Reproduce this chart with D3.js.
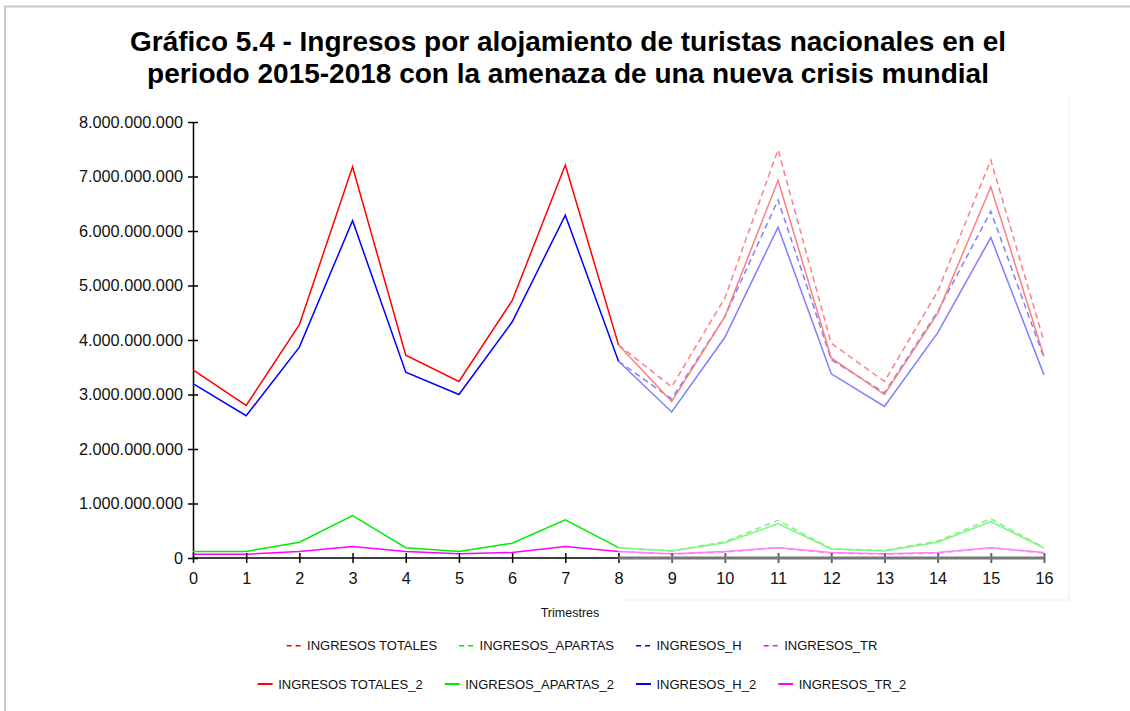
<!DOCTYPE html>
<html>
<head>
<meta charset="utf-8">
<script src="https://cdn.jsdelivr.net/npm/d3@7"></script>
<style>
  body { margin: 0; background: #fff; }
  text { font-family: "Liberation Sans", Arial, sans-serif; }
</style>
</head>
<body>
<svg width="1130" height="711"></svg>
<script>

// Data (valores en euros)
var periods = [0, 1, 2, 3, 4, 5, 6, 7, 8, 9, 10, 11, 12, 13, 14, 15, 16];
var forecastPeriods = [8, 9, 10, 11, 12, 13, 14, 15, 16];

var totales2 = [3450000000, 2800000000, 4280000000, 7180000000, 3720000000, 3240000000, 4720000000, 7210000000, 3910000000,
                2870000000, 4430000000, 6930000000, 3670000000, 3000000000, 4490000000, 6810000000, 3700000000];
var apartas2 = [120000000, 120000000, 290000000, 780000000, 190000000, 120000000, 270000000, 700000000, 190000000,
                130000000, 280000000, 630000000, 165000000, 130000000, 290000000, 670000000, 180000000];
var h2 = [3200000000, 2610000000, 3870000000, 6190000000, 3410000000, 3000000000, 4330000000, 6290000000, 3610000000,
          2680000000, 4050000000, 6070000000, 3380000000, 2780000000, 4130000000, 5880000000, 3360000000];
var tr2 = [70000000, 70000000, 120000000, 210000000, 120000000, 80000000, 100000000, 210000000, 120000000,
           80000000, 120000000, 190000000, 100000000, 80000000, 100000000, 190000000, 100000000];

// escenario con nueva crisis (desde el trimestre 8)
var totales = [3910000000, 3140000000, 4770000000, 7490000000, 3940000000, 3240000000, 4890000000, 7300000000, 3970000000];
var apartas = [190000000, 130000000, 300000000, 690000000, 170000000, 140000000, 310000000, 720000000, 190000000];
var hh = [3610000000, 2920000000, 4430000000, 6570000000, 3640000000, 3030000000, 4520000000, 6360000000, 3670000000];
var tr = [120000000, 70000000, 110000000, 190000000, 90000000, 70000000, 90000000, 190000000, 90000000];

var yTicks = [0, 1000000000, 2000000000, 3000000000, 4000000000, 5000000000, 6000000000, 7000000000, 8000000000];

var legendRow1 = ["INGRESOS TOTALES", "INGRESOS_APARTAS", "INGRESOS_H", "INGRESOS_TR"];
var legendRow2 = ["INGRESOS TOTALES_2", "INGRESOS_APARTAS_2", "INGRESOS_H_2", "INGRESOS_TR_2"];
var colors = ["#ff0000", "#00ee00", "#0000ff", "#ff00ff"];

var solidSeries = [totales2, apartas2, h2, tr2];
var dashedSeries = [totales, apartas, hh, tr];

var svg = d3.select("svg");

var locale = d3.formatLocale({decimal: ",", thousands: ".", grouping: [3], currency: ["", "€"]});
var fmt = locale.format(",d");

// outer frame
svg.append("path")
    .attr("d", "M5,711 L5,6.5 L1130,6.5")
    .attr("fill", "none")
    .attr("stroke", "#c8c8c8")
    .attr("stroke-width", 2);

// faint frame of the second plot
svg.append("path")
    .attr("d", "M625,600 L1069,600 L1069,98")
    .attr("fill", "none")
    .attr("stroke", "#ececec")
    .attr("stroke-width", 1);

// title
var title = svg.append("text")
    .attr("x", 568)
    .attr("text-anchor", "middle")
    .attr("font-weight", "bold")
    .attr("font-size", 28)
    .attr("fill", "#000");
title.append("tspan").attr("x", 568).attr("y", 51).text("Gráfico 5.4 - Ingresos por alojamiento de turistas nacionales en el");
title.append("tspan").attr("x", 568).attr("y", 83).text("periodo 2015-2018 con la amenaza de una nueva crisis mundial");

// scales
var x = d3.scaleLinear().domain([0, 16]).range([193, 1044]);
var y = d3.scaleLinear().domain([0, 8000000000]).range([558, 122]);

// y axis
var yAxis = svg.append("g")
    .attr("transform", "translate(" + x(0) + ",0)")
    .call(d3.axisLeft(y).tickValues(yTicks).tickFormat(fmt).tickSizeOuter(0));
yAxis.select(".domain").attr("stroke", "#000").attr("stroke-width", 1.5);
yAxis.selectAll(".tick line").attr("x1", -5).attr("x2", 5).attr("stroke", "#000").attr("stroke-width", 1.5);
yAxis.selectAll(".tick text")
    .attr("x", -10)
    .attr("font-size", 16.3)
    .attr("font-family", "Liberation Sans, Arial, sans-serif")
    .attr("fill", "#111");

// lines
var line = d3.line()
    .x(function (d) { return x(d[0]); })
    .y(function (d) { return y(d[1]); });

// first panel: solid lines up to trimestre 8
var firstPart = svg.append("g");
solidSeries.forEach(function (s, i) {
    var pts = periods.filter(function (p) { return p <= 8; }).map(function (p) { return [p, s[p]]; });
    firstPart.append("path")
        .attr("d", line(pts))
        .attr("fill", "none")
        .attr("stroke", colors[i])
        .attr("stroke-width", 1.5);
});

// overlay panel (trimestres 8 a 16), semitransparente
var overlay = svg.append("g").attr("opacity", 0.5);

dashedSeries.forEach(function (s, i) {
    var pts = forecastPeriods.map(function (p, j) { return [p, s[j]]; });
    overlay.append("path")
        .attr("d", line(pts))
        .attr("fill", "none")
        .attr("stroke", colors[i])
        .attr("stroke-width", 1.5)
        .attr("stroke-dasharray", "6,4");
});
solidSeries.forEach(function (s, i) {
    var pts = periods.filter(function (p) { return p >= 8; }).map(function (p) { return [p, s[p]]; });
    overlay.append("path")
        .attr("d", line(pts))
        .attr("fill", "none")
        .attr("stroke", colors[i])
        .attr("stroke-width", 1.5);
});

// x axis
var xAxis = svg.append("g")
    .attr("transform", "translate(0," + y(0) + ")")
    .call(d3.axisBottom(x).tickValues(periods).tickFormat(d3.format("d")).tickSizeOuter(0));
xAxis.select(".domain").remove();
xAxis.append("line")
    .attr("x1", x(0)).attr("x2", x(8))
    .attr("stroke", "#000").attr("stroke-width", 1.5);
xAxis.append("line")
    .attr("x1", x(8)).attr("x2", x(16))
    .attr("stroke", "#777").attr("stroke-width", 3);
xAxis.selectAll(".tick line")
    .attr("y1", -5).attr("y2", 5)
    .attr("stroke", function (d) { return d > 8 ? "#666" : "#000"; })
    .attr("stroke-width", function (d) { return d > 8 ? 2 : 1.5; });
xAxis.selectAll(".tick text")
    .attr("y", 26).attr("dy", 0)
    .attr("font-size", 16.3)
    .attr("font-family", "Liberation Sans, Arial, sans-serif")
    .attr("fill", "#111");

svg.append("text")
    .attr("x", 570)
    .attr("y", 617)
    .attr("text-anchor", "middle")
    .attr("font-size", 12.5)
    .attr("fill", "#111")
    .text("Trimestres");

// legend
function legendRow(names, cy, dashed) {
    var g = svg.append("g");
    var cursor = 0;
    names.forEach(function (n, i) {
        var item = g.append("g").attr("transform", "translate(" + cursor + ",0)");
        item.append("line")
            .attr("x1", 0).attr("x2", 15)
            .attr("y1", cy).attr("y2", cy)
            .attr("stroke", colors[i])
            .attr("stroke-width", dashed ? 1.5 : 2)
            .attr("stroke-dasharray", dashed ? "5,4" : null);
        var t = item.append("text")
            .attr("x", 20.5)
            .attr("y", cy + 4.7)
            .attr("font-size", 13)
            .attr("fill", "#111")
            .text(n);
        cursor += 20.5 + t.node().getComputedTextLength() + 22;
    });
    var total = cursor - 22;
    g.attr("transform", "translate(" + (582 - total / 2) + ",0)");
}
legendRow(legendRow1, 645.7, true);
legendRow(legendRow2, 684, false);

</script>
</body>
</html>
